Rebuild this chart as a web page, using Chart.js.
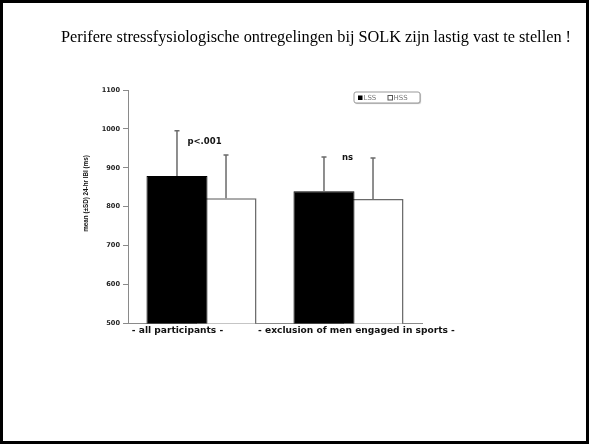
<!DOCTYPE html>
<html>
<head>
<meta charset="utf-8">
<script src="https://cdn.jsdelivr.net/npm/chart.js@4.4.1/dist/chart.umd.min.js"></script>
<style>
  html, body { margin: 0; padding: 0; background: #fff; }
  #wrap { position: relative; width: 592px; height: 444px; }
  #frame { position: absolute; left: 0; top: 0; width: 589px; height: 444px; box-sizing: border-box; border: 3px solid #000; pointer-events: none; }
  canvas { position: absolute; left: 0; top: 0; }
</style>
</head>
<body>
<div id="wrap">
  <canvas id="c" width="592" height="444"></canvas>
  <div id="frame"></div>
</div>
<script>
// ---- data ----
const slideTitle = "Perifere stressfysiologische ontregelingen bij SOLK zijn lastig vast te stellen !";
const categories = ["- all participants -", "- exclusion of men engaged in sports -"];
const seriesNames = ["LSS", "HSS"];
const lssMean = [879, 840];
const lssSD = [116, 88];
const hssMean = [822, 820];
const hssSD = [111, 105];
const significance = ["p<.001", "ns"];
const yTitle = "mean (±SD) 24-hr IBI (ms)";
const yMin = 500, yMax = 1100, yStep = 100;

// ---- style ----
const BOLD = '"DejaVu Sans", "Liberation Sans", Arial, sans-serif';
const labelShift = [-24, 8];
const sigPos = [{dx: 3, y: 141.5}, {dx: -1, y: 158}];

const sdByDataset = [lssSD, hssSD];

const decorPlugin = {
  id: 'decor',
  afterDatasetsDraw(chart) {
    const ctx = chart.ctx;
    const ys = chart.scales.y;
    const xs = chart.scales.x;
    ctx.save();
    // error bars
    chart.data.datasets.forEach((ds, i) => {
      const meta = chart.getDatasetMeta(i);
      meta.data.forEach((el, j) => {
        const top = ys.getPixelForValue(ds.data[j] + sdByDataset[i][j]);
        ctx.strokeStyle = '#6a6a6a';
        ctx.lineWidth = 1.5;
        ctx.beginPath();
        ctx.moveTo(el.x, el.y);
        ctx.lineTo(el.x, top);
        ctx.moveTo(el.x - 2.5, top);
        ctx.lineTo(el.x + 2.5, top);
        ctx.stroke();
      });
    });
    // significance labels
    ctx.fillStyle = '#111';
    ctx.font = 'bold 8.5px ' + BOLD;
    ctx.textBaseline = 'middle';
    ctx.textAlign = 'center';
    significance.forEach((s, j) => {
      const cx = xs.getPixelForTick(j);
      ctx.fillText(s, cx + sigPos[j].dx, sigPos[j].y);
    });
    // category labels
    ctx.font = 'bold 9.1px ' + BOLD;
    categories.forEach((c, j) => {
      const cx = xs.getPixelForTick(j);
      ctx.fillText(c, cx + labelShift[j], 330.5);
    });
    // y title
    ctx.save();
    ctx.translate(86, 193.5);
    ctx.rotate(-Math.PI / 2);
    ctx.font = 'bold 6.3px "Liberation Sans", Arial, sans-serif';
    ctx.fillText(yTitle, 0, 0);
    ctx.restore();
    // legend
    const lx = 354, ly = 92, lw = 66, lh = 11;
    ctx.shadowColor = 'rgba(0,0,0,0.25)';
    ctx.shadowOffsetX = 1; ctx.shadowOffsetY = 1; ctx.shadowBlur = 1;
    ctx.fillStyle = '#fff';
    ctx.beginPath();
    ctx.roundRect(lx, ly, lw, lh, 2);
    ctx.fill();
    ctx.shadowColor = 'transparent';
    ctx.strokeStyle = '#999';
    ctx.lineWidth = 1;
    ctx.stroke();
    ctx.fillStyle = '#000';
    ctx.fillRect(358, 95.5, 4.5, 4.5);
    ctx.fillStyle = '#fff';
    ctx.strokeStyle = '#555';
    ctx.fillRect(388, 95.5, 4.5, 4.5);
    ctx.strokeRect(388, 95.5, 4.5, 4.5);
    ctx.fillStyle = '#777';
    ctx.font = '7px "DejaVu Sans", Arial, sans-serif';
    ctx.textAlign = 'left';
    ctx.fillText(seriesNames[0], 363.5, 98);
    ctx.fillText(seriesNames[1], 393.5, 98);
    // slide title
    ctx.fillStyle = '#000';
    ctx.font = '16.3px "Liberation Serif", "Times New Roman", serif';
    ctx.textBaseline = 'alphabetic';
    ctx.fillText(slideTitle, 61, 42);
    ctx.restore();
  }
};

new Chart(document.getElementById('c'), {
  type: 'bar',
  data: {
    labels: categories,
    datasets: [
      { label: seriesNames[0], data: lssMean, backgroundColor: '#000', borderColor: '#000', borderWidth: 1,
        categoryPercentage: 0.667, barPercentage: 1.245 },
      { label: seriesNames[1], data: hssMean, backgroundColor: '#fff', borderColor: '#6a6a6a', borderWidth: 1.5,
        categoryPercentage: 0.667, barPercentage: 1.245 }
    ]
  },
  options: {
    responsive: false,
    animation: false,
    devicePixelRatio: 1,
    layout: { padding: { left: 80, top: 90, right: 170, bottom: 0 } },
    plugins: { legend: { display: false }, tooltip: { enabled: false }, title: { display: false } },
    scales: {
      x: {
        grid: { display: false, drawTicks: false },
        border: { display: true, color: '#8a8a8a', width: 1 },
        ticks: { display: false },
        afterFit(s) { s.height = 444 - 323.5; }
      },
      y: {
        min: yMin, max: yMax,
        ticks: { stepSize: yStep, color: '#222', padding: 3,
                 callback: (v) => String(v),
                 font: { family: BOLD, size: 6.6, weight: 'bold' } },
        grid: { drawOnChartArea: false, drawTicks: true, tickLength: 5, color: '#8a8a8a' },
        border: { color: '#8a8a8a', width: 1 },
        afterFit(s) { s.width = 48; }
      }
    }
  },
  plugins: [decorPlugin]
});
</script>
</body>
</html>
